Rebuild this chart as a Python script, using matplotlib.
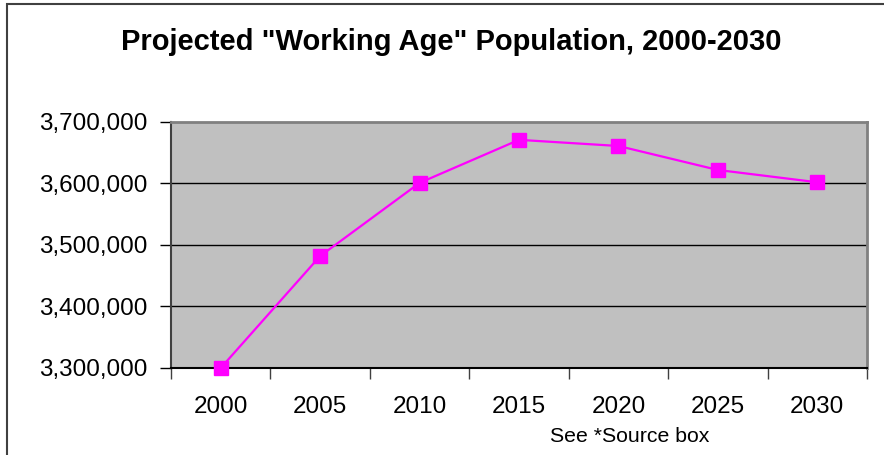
import matplotlib
matplotlib.use("Agg")
import matplotlib.pyplot as plt
from matplotlib.patches import Rectangle
from matplotlib.ticker import FuncFormatter, FixedLocator
import numpy as np

years = ["2000", "2005", "2010", "2015", "2020", "2025", "2030"]
population = [3300000, 3482000, 3601000, 3671000, 3661000, 3622000, 3602000]
y_ticks = [3300000, 3400000, 3500000, 3600000, 3700000]

plt.rcParams["font.family"] = ["Liberation Sans", "DejaVu Sans"]

W, H = 884, 455
fig = plt.figure(figsize=(W / 100, H / 100), dpi=100)
fig.patch.set_facecolor("white")

# outer chart border (cropped at right and bottom)
fig.patches.append(Rectangle((7 / W, -0.1), 1.2, 1 - 4 / H + 0.1, transform=fig.transFigure,
                             fill=False, edgecolor="#404040", lw=1.5))

ax = fig.add_axes([171 / W, 1 - 368 / H, (867 - 171) / W, (368 - 122) / H])
ax.set_facecolor("#c0c0c0")

x = np.arange(len(years))
ax.plot(x, population, "-s", color="#ff00ff", lw=1.6, ms=9.5, mec="#ff00ff", zorder=5,
        clip_on=False)

ax.set_xlim(-0.5, len(years) - 0.5)
ax.set_ylim(y_ticks[0], y_ticks[-1])

ax.set_yticks(y_ticks)
ax.yaxis.set_major_formatter(FuncFormatter(lambda v, p: f"{v:,.0f}"))
for v in y_ticks[1:-1]:
    ax.axhline(v, color="black", lw=1.0, zorder=1)

ax.set_xticks(x)
ax.set_xticklabels(years)
ax.xaxis.set_minor_locator(FixedLocator(np.arange(-0.5, len(years), 1.0)))
ax.tick_params(axis="x", which="major", length=0, pad=20, labelsize=17.5)
ax.tick_params(axis="x", which="minor", length=8, width=1, color="#404040", direction="out")
ax.tick_params(axis="y", length=8, width=1, color="black", direction="out", pad=9, labelsize=17.5)

for side in ("top", "right"):
    ax.spines[side].set_color("#808080")
    ax.spines[side].set_linewidth(2)
ax.spines["left"].set_color("#404040")
ax.spines["left"].set_linewidth(1.5)
ax.spines["bottom"].set_color("black")
ax.spines["bottom"].set_linewidth(1.5)

fig.text(451 / W, 1 - 42 / H, 'Projected "Working Age" Population, 2000-2030',
         ha="center", va="center", fontsize=21, fontweight="bold")
fig.text(630 / W, 1 - 437 / H, "See *Source box", ha="center", va="center", fontsize=15.3)

fig.savefig("out.png", dpi=100)
